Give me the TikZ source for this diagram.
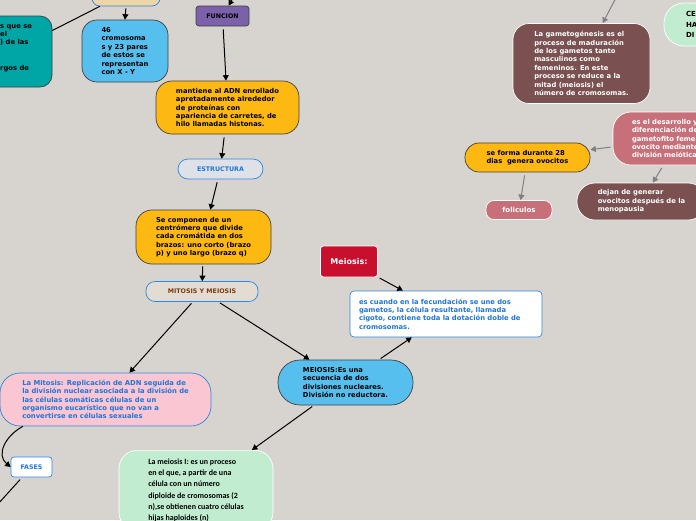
\documentclass[tikz,border=0pt]{standalone}
\usepackage{fontspec}
\setmainfont{DejaVu Sans}
\newfontfamily\carlito{Carlito}
\usepackage{xcolor}
\usepackage{tikz}
\usetikzlibrary{arrows.meta, calc}

\definecolor{bgpaper}{RGB}{215,212,208}
\definecolor{beigetop}{RGB}{236,213,166}
\definecolor{tealbox}{RGB}{0,165,165}
\definecolor{skyblue}{RGB}{86,191,238}
\definecolor{purplebox}{RGB}{123,96,170}
\definecolor{orangebox}{RGB}{253,185,18}
\definecolor{paleblue}{RGB}{222,226,232}
\definecolor{linkblue}{RGB}{46,134,222}
\definecolor{bluetext}{RGB}{29,118,219}
\definecolor{mitmeifill}{RGB}{226,220,211}
\definecolor{browntext}{RGB}{122,62,16}
\definecolor{pinkbox}{RGB}{249,198,210}
\definecolor{crimson}{RGB}{200,16,46}
\definecolor{mint}{RGB}{193,236,208}
\definecolor{maroon}{RGB}{122,80,80}
\definecolor{rosebox}{RGB}{200,112,122}
\definecolor{greyarrow}{RGB}{128,128,128}

\begin{document}
\begin{tikzpicture}[
    x=1pt, y=-1pt,
    box/.style={rectangle, rounded corners=15pt, draw=black!75, line width=0.7pt, inner sep=0pt,
        align=left, font=\fontsize{6.8}{8.4}\selectfont\bfseries},
    label/.style={box, font=\fontsize{6.3}{7.5}\selectfont\bfseries},
    plaintext/.style={inner sep=0pt, align=left, font=\fontsize{6.8}{8.4}\selectfont\bfseries},
    link/.style={-{Triangle[length=5.5pt, width=6pt]}, line width=1pt, draw=black},
    greylink/.style={link, draw=greyarrow, {-{Triangle[length=5.5pt, width=6pt]}}}
]

    % --- PAPER ---
    \useasboundingbox (0,0) rectangle (696,520);
    \clip (0,0) rectangle (696,520);
    \fill[bgpaper] (0,0) rectangle (696,520);

    % --- Left branch ---
    \node[box, fill=beigetop, draw=linkblue, rounded corners=8pt, minimum width=68pt, minimum height=26pt] (cariotipo) at (126,-7) {};
    \node[box, fill=tealbox, rounded corners=12pt, minimum width=82pt, minimum height=71pt] (cromatina) at (11,51.5) {};
    \node[plaintext, anchor=west] (cromatinatext) at (0,48) {s que se\\ el\\ ) de las\\[16.8pt] rgos de};
    \node[box, fill=skyblue, minimum width=86pt, minimum height=62pt] (cromosomas) at (125,51) {46\\ cromosoma\\ s y 23 pares\\ de estos se\\ representan\\ con X - Y};

    % --- Centre column ---
    \coordinate (titulo) at (240,-14);
    \node[label, fill=purplebox, rounded corners=3pt, minimum width=53pt, minimum height=20pt] (funcion) at (222.5,16) {FUNCION};
    \node[box, fill=orangebox, rounded corners=16pt, minimum width=143pt, minimum height=53pt] (mantiene) at (227.5,107.5) {mantiene al ADN enrollado\\ apretadamente alrededor\\ de proteínas con\\ apariencia de carretes, de\\ hilo llamadas histonas.};
    \node[label, fill=paleblue, draw=linkblue, text=bluetext, rounded corners=10pt, minimum width=85pt, minimum height=20pt] (estructura) at (220.5,169) {ESTRUCTURA};
    \node[box, fill=orangebox, rounded corners=16pt, minimum width=135pt, minimum height=54pt] (componen) at (203.5,237) {Se componen de un\\ centrómero que divide\\ cada cromátida en dos\\ brazos: uno corto (brazo\\ p) y uno largo (brazo q)};
    \node[label, fill=mitmeifill, draw=linkblue, text=browntext, rounded corners=9pt, minimum width=112pt, minimum height=20pt] (mitmei) at (202,291.5) {MITOSIS Y MEIOSIS};

    % --- Mitosis ---
    \node[box, fill=pinkbox, draw=linkblue, text=bluetext, rounded corners=20pt, minimum width=211pt, minimum height=53pt] (mitosis) at (105.5,399.5) {La Mitosis: Replicación de ADN seguida de\\ la división nuclear asociada a la división de\\ las células somáticas células de un\\ organismo eucarístico que no van a\\ convertirse en células sexuales};
    \node[label, fill=white, draw=linkblue, text=bluetext, rounded corners=3pt, minimum width=41pt, minimum height=20pt] (fases) at (31.5,467) {FASES};
    \coordinate (fasesnext) at (-12,515);

    % --- Meiosis ---
    \node[box, fill=crimson, draw=white!85, text=white, rounded corners=3pt, minimum width=57pt, minimum height=31pt, font=\fontsize{8}{9}\selectfont\bfseries] (meiosistitle) at (349,261.5) {Meiosis:};
    \node[box, fill=white, draw=linkblue, text=bluetext, rounded corners=4pt, inner xsep=9pt, text width=174pt, minimum height=46pt] (fecundacion) at (446,314) {es cuando en la fecundación se une dos\\ gametos, la célula resultante, llamada\\ cigoto, contiene toda la dotación doble de\\ cromosomas.};
    \node[box, fill=skyblue, rounded corners=22pt, minimum width=135pt, minimum height=45pt] (meiosis) at (345.5,382.5) {MEIOSIS:Es una\\ secuencia de dos\\ divisiones nucleares.\\ División no reductora.};
    \node[box, fill=mint, draw=white!70, rounded corners=18pt, minimum width=154pt, minimum height=80pt, anchor=north,
        font=\carlito\fontsize{8}{11.3}\selectfont\bfseries] (meiosisuno) at (196,450) {La meiosis I: es un proceso\\ en el que, a partir de una\\ célula con un número\\ diploide de cromosomas (2\\ n),se obtienen cuatro células\\ hijas haploides (n)};

    % --- Right branch ---
    \coordinate (gametoparent) at (618,-6);
    \node[box, fill=maroon, draw=white!85, text=white, rounded corners=16pt, minimum width=137pt, minimum height=80pt] (gametogenesis) at (581.5,63.5) {La gametogénesis es el\\ proceso de maduración\\ de los gametos tanto\\ masculinos como\\ femeninos. En este\\ proceso se reduce a la\\ mitad (meiosis) el\\ número de cromosomas.};
    \node[box, fill=mint, draw=white!70, rounded corners=20pt, inner xsep=22pt, text width=20pt, minimum height=43pt, font=\fontsize{7}{10.5}\selectfont\bfseries] (celulas) at (696,24.5) {CE\\ HA\\ DI};
    \node[box, fill=rosebox, draw=white!85, text=white, rounded corners=18pt, inner xsep=19pt, text width=95pt, minimum height=53pt] (ovogenesis) at (679.5,138.5) {es el desarrollo y\\ diferenciación de\\ gametofito feme\\ ovocito mediante\\ división meiótica};
    \node[box, fill=orangebox, rounded corners=14pt, minimum width=125pt, minimum height=29pt] (seforma) at (527.5,157.5) {se forma durante 28\\ dias~ genera ovocitos};
    \node[box, fill=rosebox, draw=white!85, text=white, rounded corners=8pt, minimum width=66pt, minimum height=19pt, font=\fontsize{7}{8.4}\selectfont\bfseries] (foliculos) at (519,210) {foliculos};
    \node[box, fill=maroon, draw=white!85, text=white, rounded corners=18pt, minimum width=129pt, minimum height=37pt] (menopausia) at (641.5,201.5) {dejan de generar\\ ovocitos después de la\\ menopausia};

    % --- CONNECTORS ---
    \draw[line width=1pt] (cariotipo) -- (cromatina);
    \draw[link, shorten <=2pt] (cariotipo.south) -- (cromosomas.north);
    \draw[link] (titulo) -- (funcion);
    \draw[link, shorten <=3pt] (funcion) -- (mantiene);
    \draw[link, shorten <=3pt] (mantiene) -- (estructura);
    \draw[link, shorten <=3pt] (estructura) -- (componen);
    \draw[link, shorten <=2pt] (componen) -- (mitmei);
    \draw[link, shorten <=2pt] (mitmei) -- (mitosis);
    \draw[link, shorten <=2pt] (mitmei) -- (meiosis);
    \draw[link] (mitosis.198) .. controls (5,436) and (-4,455) .. (fases.west);
    \draw[link, shorten <=3pt] (fases) -- (fasesnext);
    \draw[link, shorten <=2pt] (meiosistitle) -- (fecundacion);
    \draw[link, shorten <=2pt] (meiosis) -- (fecundacion);
    \draw[link, shorten <=2pt] (meiosis) -- (meiosisuno);

    % right branch (grey)
    \draw[greylink] (gametoparent) -- (gametogenesis);
    \draw[greylink, shorten <=2pt] (ovogenesis) -- (seforma);
    \draw[greylink, shorten <=3pt] (seforma) -- (foliculos);
    \draw[greylink, shorten <=3pt] (ovogenesis) -- (menopausia);

\end{tikzpicture}
\end{document}
